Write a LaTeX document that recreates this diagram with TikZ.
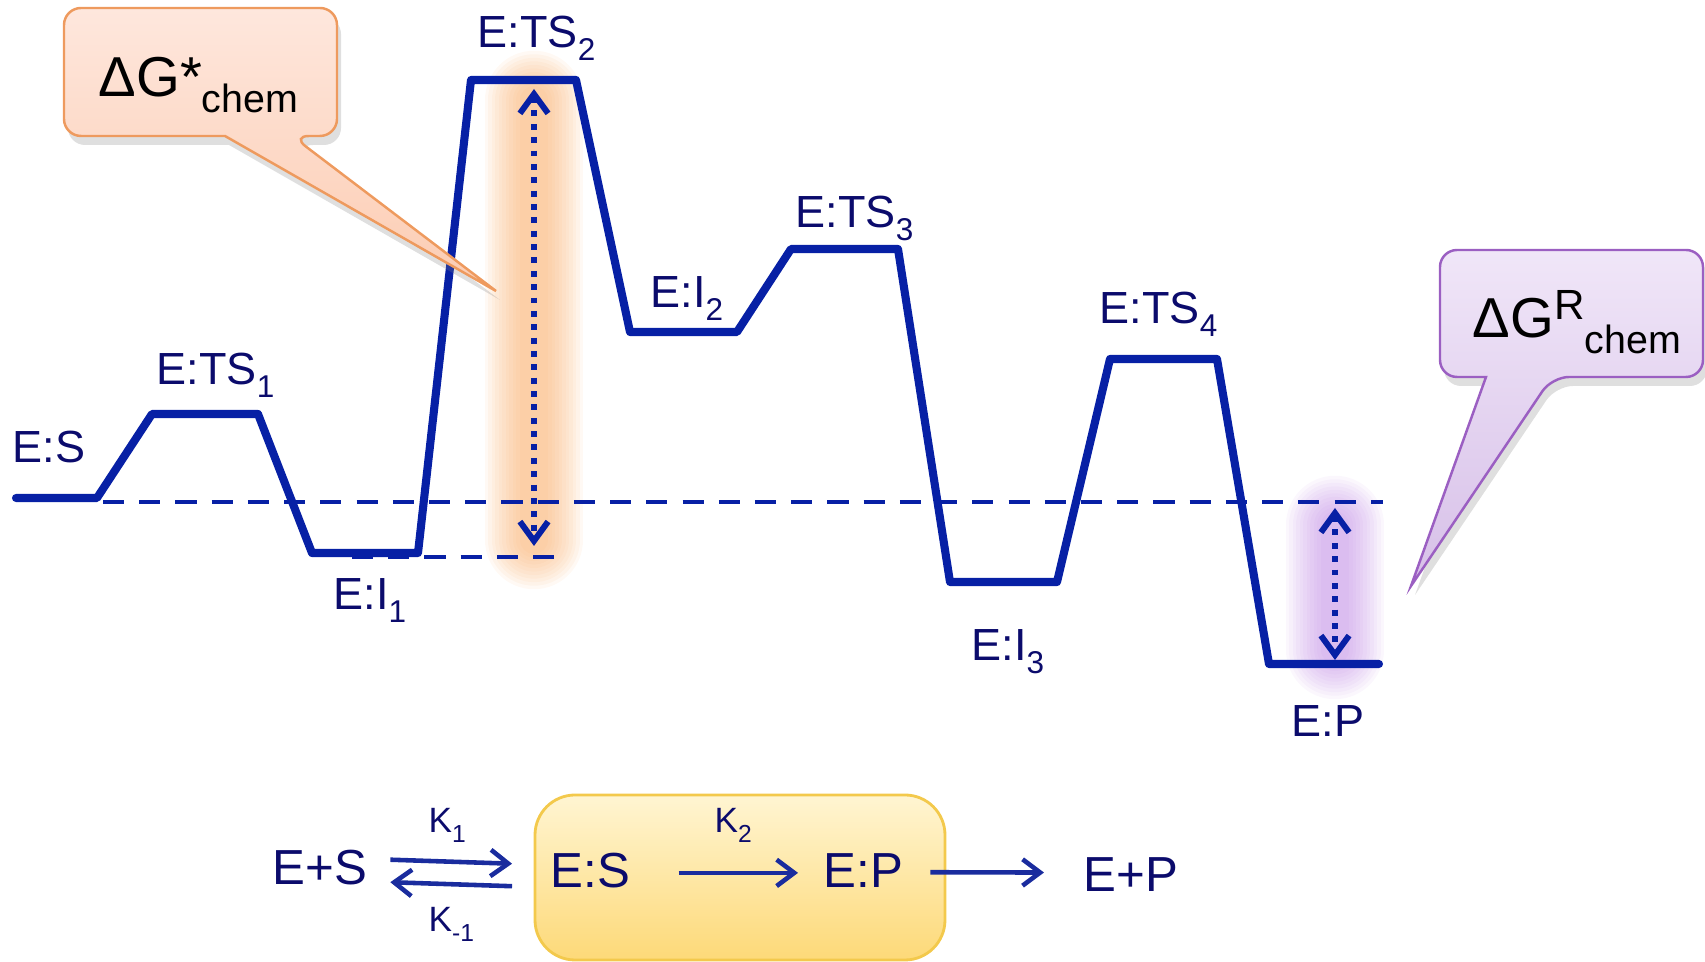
\documentclass[tikz,border=0pt]{standalone}
\usepackage{fontspec}
\setmainfont{Liberation Sans}
\usepackage{tikz}
\usetikzlibrary{
  arrows.meta,
  positioning,
  fit,
  calc,
  shadows
}
\definecolor{egLine}{HTML}{0720A5}
\definecolor{egText}{HTML}{0B0B6C}
\definecolor{egArrow}{HTML}{1A2C9E}
\definecolor{egOrange}{HTML}{F9A860}
\definecolor{egPurple}{HTML}{B678E0}
\definecolor{egPeachTop}{HTML}{FEE7DD}
\definecolor{egPeachBot}{HTML}{FCCCB2}
\definecolor{egPeachDraw}{HTML}{EE9A5E}
\definecolor{egLilacTop}{HTML}{F0E6F8}
\definecolor{egLilacBot}{HTML}{D7C0E8}
\definecolor{egLilacDraw}{HTML}{9B5FC2}
\definecolor{egGoldTop}{HTML}{FFF5D2}
\definecolor{egGoldBot}{HTML}{FDD978}
\definecolor{egGoldDraw}{HTML}{F3C94C}
\newcommand{\lsub}[1]{\raisebox{-0.28em}{\scalebox{0.7}{#1}}}
\newcommand{\lsup}[1]{\raisebox{0.32em}{\scalebox{0.75}{#1}}}
\tikzset{
  profile/.style={line width=2.3pt, egLine, line cap=round, line join=round},
  refline/.style={line width=1.3pt, egLine, dash pattern=on 6pt off 4.3pt},
  dgarrow/.style={
    {Straight Barb[length=5.5pt,width=8pt]}-{Straight Barb[length=5.5pt,width=8pt]},
    line width=1.7pt, egLine, dash pattern=on 1.7pt off 2.1pt
  },
  lvl/.style={font=\fontsize{12.8}{15}\selectfont, text=egText, anchor=base west, inner sep=0pt},
  rxn/.style={font=\fontsize{14}{16}\selectfont, text=egText, anchor=base west, inner sep=0pt,
    text height=10pt, text depth=0pt},
  rate/.style={font=\fontsize{10}{12}\selectfont, text=egText, anchor=base west, inner sep=0pt},
  rxnarrow/.style={-{Straight Barb[length=5pt,width=7.5pt]}, line width=1.3pt, egArrow},
  callout/.style={line width=0.7pt, drop shadow={opacity=0.25, shadow xshift=0.4mm, shadow yshift=-0.9mm}},
  dgstar/.style={callout, draw=egPeachDraw, top color=egPeachTop, bottom color=egPeachBot},
  dgr/.style={callout, draw=egLilacDraw, top color=egLilacTop, bottom color=egLilacBot},
  bubbletext/.style={font=\fontsize{16}{18}\selectfont, anchor=base west, inner sep=0pt},
  rxnbox/.style={draw=egGoldDraw, line width=0.8pt, rounded corners=0.4cm,
    top color=egGoldTop, bottom color=egGoldBot, inner sep=0pt}
}

\begin{document}
\begin{tikzpicture}[x=0.01cm, y=-0.01cm, node distance=4mm]
  \useasboundingbox (0,0) rectangle (1705,962);
  \foreach \n/\x/\y in {s0/16/498, s1/97/498, ts1a/152/414, ts1b/258/414,
      i1a/312/553, i1b/418/553, ts2a/471/80, ts2b/576/80, i2a/630/332, i2b/737/332,
      ts3a/791/249, ts3b/898/249, i3a/950/582, i3b/1057/582, ts4a/1110/359, ts4b/1217/359,
      pa/1269/664, pb/1379/664}
    \coordinate (\n) at (\x,\y);
  \coordinate (d0) at (103,502); \coordinate (d1) at (1383,502);
  \coordinate (e0) at (352,557); \coordinate (e1) at (560,557);
  \coordinate (g2a) at (534,100); \coordinate (g2b) at (534,540);
  \coordinate (gra) at (1335,525); \coordinate (grb) at (1335,650);
  \coordinate (a2top) at (534,89); \coordinate (a2bot) at (534,546);
  \coordinate (artop) at (1335,508); \coordinate (arbot) at (1335,660);

  \foreach \w in {28,26,...,8} {
    \draw[egOrange, line cap=round, line width=\w pt, opacity=0.07] (g2a) -- (g2b);
    \draw[egPurple, line cap=round, line width=\w pt, opacity=0.06] (gra) -- (grb);
  }

  \draw[refline] (d0) -- (d1);
  \draw[refline] (e0) -- (e1);
  \draw[profile] (s0) -- (s1) -- (ts1a) -- (ts1b) -- (i1a) -- (i1b) -- (ts2a) -- (ts2b)
    -- (i2a) -- (i2b) -- (ts3a) -- (ts3b) -- (i3a) -- (i3b) -- (ts4a) -- (ts4b) -- (pa) -- (pb);
  \draw[dgarrow] (a2top) -- (a2bot);
  \draw[dgarrow] (artop) -- (arbot);

  \node[lvl] (lES) at (12,463) {E:S};
  \node[lvl] (lTS1) at (156,385) {E:TS\lsub{1}};
  \node[lvl] (lI1) at (333,610) {E:I\lsub{1}};
  \node[lvl] (lTS2) at (477,48) {E:TS\lsub{2}};
  \node[lvl] (lI2) at (650,308) {E:I\lsub{2}};
  \node[lvl] (lTS3) at (795,228) {E:TS\lsub{3}};
  \node[lvl] (lI3) at (971,661) {E:I\lsub{3}};
  \node[lvl] (lTS4) at (1099,324) {E:TS\lsub{4}};
  \node[lvl] (lEP) at (1291,737) {E:P};

  \draw[dgstar] (200,8) [rounded corners=0.17cm] -- (337,8) -- (337,136) -- (292,136)
    [sharp corners] -- (496,291) -- (225,136) [rounded corners=0.17cm] -- (64,136) -- (64,8) -- cycle;
  \node[bubbletext] (dgchem) at (98,97) {ΔG*\lsub{chem}};
  \draw[dgr] (1570,250) [rounded corners=0.17cm] -- (1703,250) -- (1703,377) -- (1552,377)
    [sharp corners] -- (1411,586) -- (1486,377) [rounded corners=0.17cm] -- (1440,377) -- (1440,250) -- cycle;
  \node[bubbletext] (dgrchem) at (1472,338) {ΔG\lsup{R}\lsub{chem}};

  \node[rxnbox, fit={(535,795) (945,960)}] (rxnb) {};
  \node[rxn] (esp) at (272,885) {E+S};
  \node[rxn] (cs) at (550,888) {E:S};
  \node[rxn] (cp) at (823,888) {E:P};
  \node[rxn] (epp) at (1083,892) {E+P};
  \node[rate] (k1) at (428,833) {K\lsub{1}};
  \node[rate] (km1) at (428,932) {K\lsub{-1}};
  \node[rate] (k2) at (714,833) {K\lsub{2}};
  \draw[rxnarrow, shorten <=6.4pt, shorten >=10.8pt] ([yshift=2.4pt]esp.east) -- ([yshift=1.55pt]cs.west);
  \draw[rxnarrow, shorten <=10.8pt, shorten >=6.4pt] ([yshift=-4.85pt]cs.west) -- ([yshift=-4pt]esp.east);
  \draw[rxnarrow, shorten <=13.6pt, shorten >=7.1pt] ([yshift=-0.7pt]cs.east) -- ([yshift=-0.7pt]cp.west);
  \draw[rxnarrow, shorten <=7.6pt, shorten >=11.1pt] ([yshift=-0.5pt]cp.east) -- ([yshift=0.5pt]epp.west);
\end{tikzpicture}
\end{document}
